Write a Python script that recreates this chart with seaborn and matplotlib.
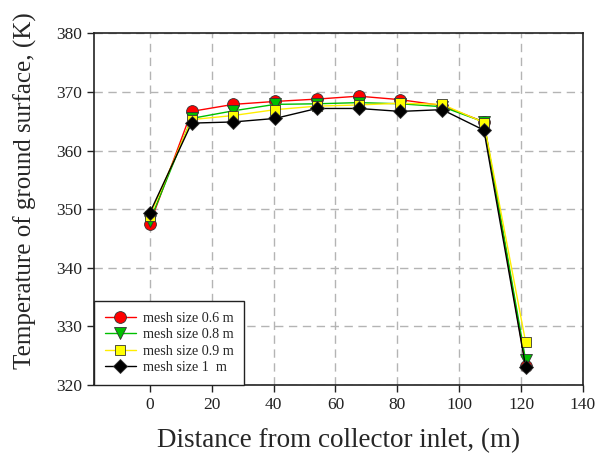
import matplotlib
matplotlib.use("Agg")
import matplotlib.pyplot as plt
import seaborn as sns
import pandas as pd

distance = [0, 13.5, 27, 40.5, 54, 67.5, 81, 94.5, 108, 121.5]
mesh_06 = [347.5, 366.7, 367.9, 368.4, 368.8, 369.3, 368.7, 367.7, 364.9, 323.3]
mesh_08 = [348.0, 365.5, 366.8, 367.9, 368.0, 368.2, 368.0, 367.5, 364.9, 324.2]
mesh_09 = [348.9, 365.3, 366.0, 367.0, 367.6, 367.8, 368.1, 367.9, 364.8, 327.3]
mesh_10 = [349.4, 364.7, 364.9, 365.5, 367.2, 367.2, 366.7, 367.0, 363.5, 323.1]

labels = ["mesh size 0.6 m", "mesh size 0.8 m", "mesh size 0.9 m", "mesh size 1  m"]
x_ticks = [0, 20, 40, 60, 80, 100, 120, 140]
y_ticks = [320, 330, 340, 350, 360, 370, 380]

sns.set_style("white")
plt.rcParams['font.family'] = ['Liberation Serif', 'DejaVu Serif']

fig = plt.figure(figsize=(5.96, 4.65), dpi=100)
ax = fig.add_axes([0.158, 0.172, 0.820, 0.756])

series = [mesh_06, mesh_08, mesh_09, mesh_10]
colors = ["#ff0000", "#00c000", "#ffff00", "#000000"]
markers = ["o", "v", "s", "D"]
msizes = [8.5, 9, 7.5, 7.5]

for vals, lab, c, m, ms in zip(series, labels, colors, markers, msizes):
    df = pd.DataFrame({"x": distance, "y": vals})
    lc = c if c != "#ffff00" else "#ffee00"
    sns.lineplot(data=df, x="x", y="y", ax=ax, color=lc, linewidth=1.0,
                 marker=m, markersize=ms, markerfacecolor=c,
                 markeredgecolor="#333333", markeredgewidth=0.6, label=lab)

ax.set_xlim(-18, 140)
ax.set_ylim(320, 380)
ax.set_xticks(x_ticks)
ax.set_yticks(y_ticks)
ax.grid(True, color="#b4b4b4", linestyle=(0, (6, 4)), linewidth=1.0)
ax.set_axisbelow(True)
for s in ax.spines.values():
    s.set_color("#222222")
    s.set_linewidth(1.2)
ax.tick_params(axis="both", direction="out", length=5, width=1, colors="#222222",
               labelsize=12.5, labelcolor="#222222", bottom=True, left=True)

ax.set_xlabel("Distance from collector inlet, (m)", fontsize=19.5, labelpad=11)
ax.set_ylabel("Temperature of ground surface, (K)", fontsize=18)
ax.yaxis.set_label_coords(-0.117, 0.554)

leg = ax.legend(loc="lower left", bbox_to_anchor=(0, 0), borderaxespad=0,
                fontsize=10.2, frameon=True, fancybox=False, framealpha=1,
                edgecolor="#222222", handlelength=2.2, handletextpad=0.5,
                labelspacing=0.25, borderpad=0.75)
leg.get_frame().set_linewidth(1.0)

fig.savefig("out.png", dpi=100)
